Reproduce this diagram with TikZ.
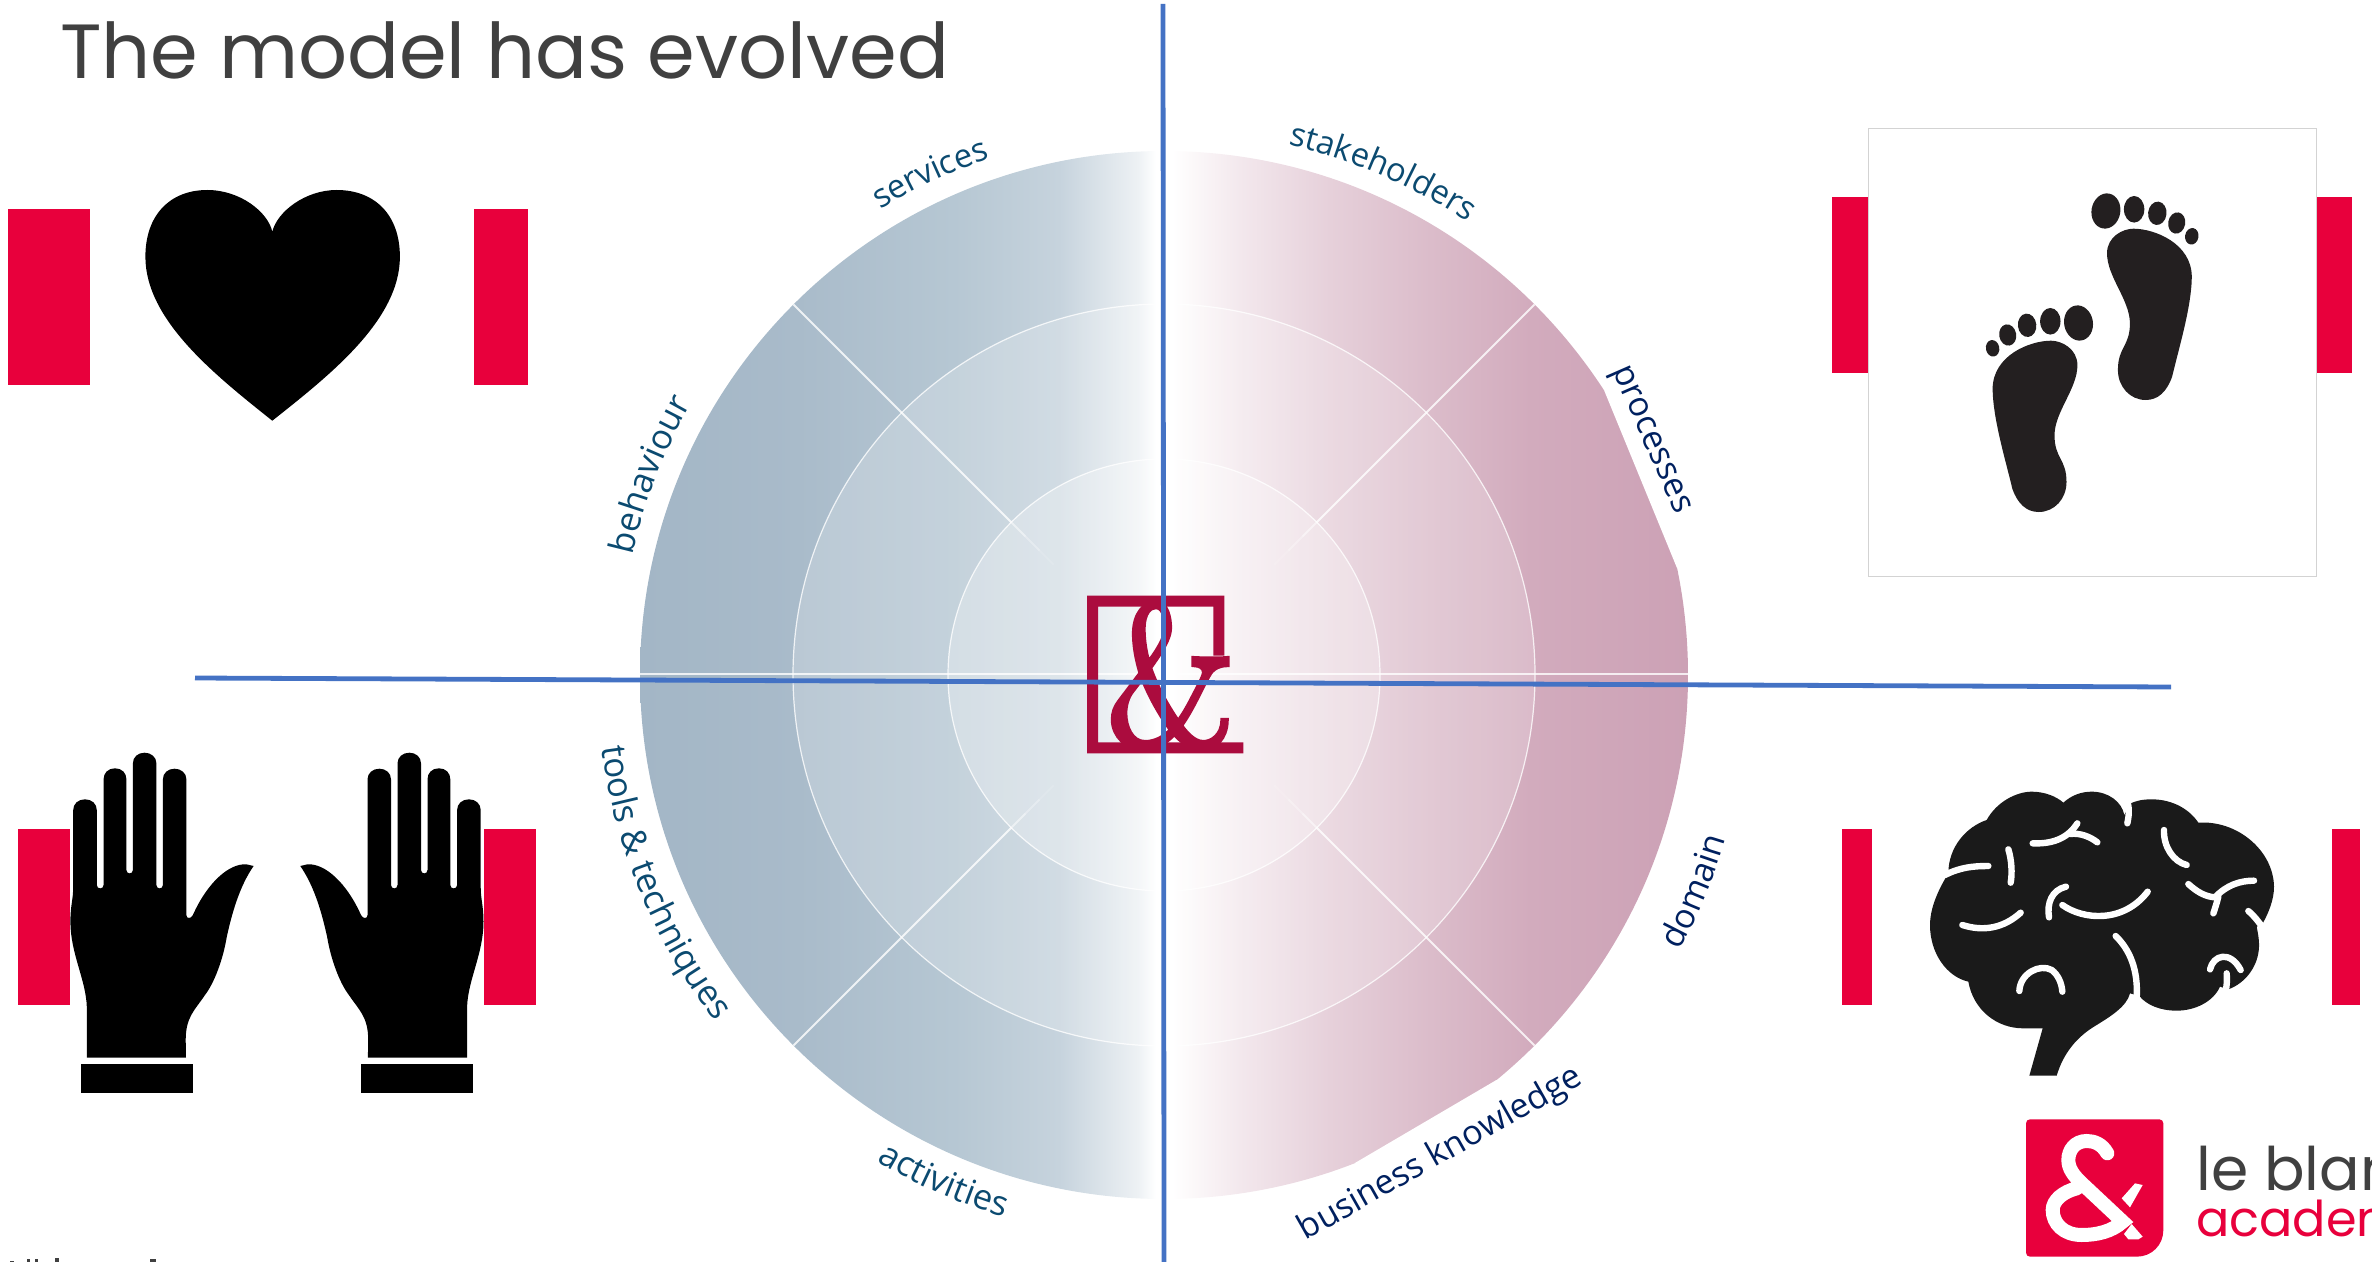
\documentclass[tikz,border=0pt]{standalone}
\usepackage{fontspec}
\usetikzlibrary{decorations.text}
\newfontfamily\titlefont{Poppins}
\newfontfamily\labelfont{Open Sans}
\newfontfamily\ampfont{Latin Modern Roman}[FakeBold=3]
\definecolor{barred}{HTML}{E8003C}
\definecolor{linkblue}{HTML}{4472C4}
\definecolor{inkgrey}{HTML}{404040}
\definecolor{labelteal}{HTML}{0B4A70}
\definecolor{labelnavy}{HTML}{00205F}
\definecolor{logowine}{HTML}{AB0C3E}
\definecolor{footink}{HTML}{231F20}
\definecolor{brainink}{HTML}{1A1A1A}
\definecolor{framegrey}{HTML}{D3D3D3}
\definecolor{wa}{HTML}{A3B6C6}
\definecolor{wb}{HTML}{A9BBCA}
\definecolor{wc}{HTML}{B6C7D3}
\definecolor{wd}{HTML}{C6D3DD}
\definecolor{we}{HTML}{EDF1F4}
\definecolor{wf}{HTML}{FCF9FA}
\definecolor{wg}{HTML}{F3E8ED}
\definecolor{wh}{HTML}{E6D0DA}
\definecolor{wi}{HTML}{DBBCCA}
\definecolor{wj}{HTML}{D2ABBD}
\definecolor{wk}{HTML}{CCA1B5}
\pgfdeclarehorizontalshading{wheelshade}{100bp}{color(0bp)=(wa); color(25bp)=(wa); color(32.5bp)=(wb); color(40bp)=(wc); color(45bp)=(wd); color(48.75bp)=(we); color(49.6bp)=(white); color(50.4bp)=(white); color(51.24bp)=(wf); color(53.6bp)=(wg); color(57.9bp)=(wh); color(62.7bp)=(wi); color(67.5bp)=(wj); color(75bp)=(wk); color(100bp)=(wk)}
\newcommand{\tealtext}{\labelfont\fontsize{26}{30}\selectfont\color{labelteal}}
\newcommand{\tealsmall}{\labelfont\fontsize{24.6}{30}\selectfont\color{labelteal}}
\newcommand{\navytext}{\labelfont\fontsize{25.5}{30}\selectfont\color{labelnavy}}
\tikzset{
  redbar/.style={fill=barred},
  bluerule/.style={draw=linkblue,line width=3.6pt},
  ringline/.style={draw=white,draw opacity=.8,line width=.9pt},
  spokeline/.style={draw=white,draw opacity=.8,line width=1.5pt},
  fold/.style={draw=white,line width=4.8pt,line cap=round},
  curvetext/.style={decorate,decoration={text along path,text align=center,text={#1}}}
}
\newcommand{\drawhand}{%
\fill (86.8,1057.7) -- (86.8,1006.7) .. controls (86,980) and (70.4,953.3) .. (70.4,921.7) .. controls (70.4,905) and (73.2,900) .. (73.2,886.7) -- (73.2,810) .. controls (73.2,804) and (78,799.3) .. (85,799.3) .. controls (92,799.3) and (96.8,804) .. (96.8,810) -- (96.8,885) .. controls (96.8,889.5) and (103.6,889.5) .. (103.6,885) -- (103.6,779.3) .. controls (103.6,773) and (108,768.3) .. (115,768.3) .. controls (122,768.3) and (126.4,773) .. (126.4,779.3) -- (126.4,870) .. controls (126.4,874.5) and (132.9,874.5) .. (132.9,870) -- (132.9,763.3) .. controls (132.9,757) and (138,752.7) .. (144.6,752.7) .. controls (151,752.7) and (156.4,757) .. (156.4,763.3) -- (156.4,885) .. controls (156.4,889.5) and (162.9,889.5) .. (162.9,885) -- (162.9,779.3) .. controls (162.9,773) and (168,768.7) .. (174.6,768.7) .. controls (181,768.7) and (186.4,773) .. (186.4,779.3) -- (186.4,915) .. controls (186.4,919) and (191,919) .. (192.9,915) .. controls (207,883.3) and (228.6,863.3) .. (246.4,864.3) -- (253.6,866) .. controls (239.3,886.7) and (232,913.3) .. (226.8,936.7) .. controls (223,960) and (214,983.3) .. (205,995) .. controls (195,1010) and (185.7,1016.7) .. (185.7,1040) -- (186,1057.7) -- cycle;
\fill (81,1064) rectangle (192.5,1092.7);}
\newcommand{\drawfoot}{%
\fill (2107,253.3) .. controls (2107,236.7) and (2122.8,228.7) .. (2133.4,228.7) .. controls (2154.5,228.7) and (2191.5,243.3) .. (2191.8,276.7) .. controls (2191.5,306.7) and (2179.2,346.7) .. (2172.1,376.7) .. controls (2166.8,391.7) and (2158,400) .. (2145.7,400) .. controls (2129.9,400) and (2117.9,386.7) .. (2117.9,370) .. controls (2117.9,346.7) and (2129.9,346.7) .. (2129.9,323.3) .. controls (2129.9,300) and (2107,276.7) .. (2107,253.3) -- cycle;
\fill [rotate around={10:(2105.9,211)}] (2105.9,211) ellipse [x radius=14.4,y radius=17.7];
\fill (2134.1,209.3) ellipse [x radius=10.2,y radius=13.3];
\fill [rotate around={6:(2157.3,213.3)}] (2157.3,213.3) ellipse [x radius=9.2,y radius=11.7];
\fill [rotate around={10:(2176.7,223)}] (2176.7,223) ellipse [x radius=8.5,y radius=10.7];
\fill [rotate around={10:(2191.8,236.3)}] (2191.8,236.3) ellipse [x radius=6.7,y radius=8.3];}
\begin{document}
\begin{tikzpicture}[x=0.75pt,y=0.75pt,yscale=-1,xscale=1]
\useasboundingbox (0,0) rectangle (2372,1262);
\clip (0,0) rectangle (2372,1262);

%Shape: Wheel
\begin{scope}[shift={(1164,675)},yscale=-1]
\begin{scope}
\clip (0,0) circle (524);
\shade [shading=wheelshade] (-524,-524) rectangle (524,524);
\end{scope}
\fill [white,opacity=.2] (0,0) circle (371);
\fill [white,opacity=.28] (0,0) circle (216);
\draw [ringline] (0,0) circle (371);
\draw [ringline] (0,0) circle (216);
\foreach \spokeangle in {45,135,225,315} {
  \draw [spokeline] (\spokeangle:216) -- (\spokeangle:524);
  \draw [spokeline,draw opacity=.5] (\spokeangle:196) -- (\spokeangle:216);
  \draw [spokeline,draw opacity=.3] (\spokeangle:176) -- (\spokeangle:196);
  \draw [spokeline,draw opacity=.12] (\spokeangle:156) -- (\spokeangle:176);
}
\draw [spokeline] (-524,1) -- (524,1);
%Shape: flat edges of the rim
\fill [white] (32.8:524) -- (11.8:524) -- (11.8:528) arc [start angle=11.8,end angle=32.8,radius=528] -- cycle;
\fill [white] (-68.6:524) -- (-50.6:524) -- (-50.6:528) arc [start angle=-50.6,end angle=-68.6,radius=528] -- cycle;
% Curved labels
\path [curvetext={|\tealsmall|services}] (140:545) arc [start angle=140,end angle=90,radius=545];
\path [curvetext={|\tealsmall|stakeholders}] (95.5:545) arc [start angle=95.5,end angle=37.5,radius=545];
\path [curvetext={|\tealtext|behaviour}] (184:545) arc [start angle=184,end angle=133.4,radius=545];
\path [curvetext={|\tealtext|tools {\&} techniques}] (165:567) arc [start angle=165,end angle=240,radius=567];
\path [curvetext={|\tealtext|activities}] (222:565) arc [start angle=222,end angle=271,radius=565];
\path [curvetext={|\navytext|domain}] (-47.2:585) arc [start angle=-47.2,end angle=2.8,radius=585];
\end{scope}
\path [curvetext={|\navytext|processes}] (1597,335) -- (1691,550);
\path [curvetext={|\navytext|business knowledge}] (1270,1261) -- (1620,1063);

%Shape: Centre mark
\fill [logowine] (1087,595.7) -- (1224.3,595.7) -- (1224.3,655.7) -- (1213.3,655.7) -- (1213.3,606.7) -- (1098,606.7) -- (1098,742.3) -- (1243.3,742.3) -- (1243.3,753.3) -- (1087,753.3) -- cycle;
\node (centreamp) [anchor=base,inner sep=0pt,text=logowine] at (1171,745) {\scalebox{.88}[1]{\ampfont\fontsize{150}{150}\selectfont\&}};

%Straight Lines
\coordinate (hleft) at (195,678);
\coordinate (hright) at (2171,687);
\coordinate (vtop) at (1163,4);
\coordinate (vbottom) at (1164,1262);
\draw [bluerule] (hleft) -- (hright);
\draw [bluerule] (vtop) -- (vbottom);

% Text Node
\node (slidetitle) [anchor=base west,inner sep=0pt,text=inkgrey] at (60,79) {\titlefont\fontsize{57.6}{60}\selectfont The model has evolved};

%Shape: Red bars
\fill [redbar] (8,209) rectangle (90,385);
\fill [redbar] (474,209) rectangle (528,385);
\fill [redbar] (18,829) rectangle (70,1005);
\fill [redbar] (484,829) rectangle (536,1005);
\fill [redbar] (1832,197) rectangle (1868,373);
\fill [redbar] (2316,197) rectangle (2352,373);
\fill [redbar] (1842,829) rectangle (1872,1005);
\fill [redbar] (2332,829) rectangle (2360,1005);

%Shape: Heart
\fill (272.3,420.7) .. controls (215,375) and (145.4,320) .. (145.4,256.7) .. controls (145.4,215) and (170,190) .. (207.3,190) .. controls (240,190) and (268,212) .. (272.3,231.7) .. controls (277,212) and (305,190) .. (336.7,190) .. controls (375,190) and (399.9,215) .. (399.9,256.7) .. controls (399.9,320) and (330,375) .. (272.3,420.7) -- cycle;

%Shape: Hands
\drawhand
\begin{scope}[shift={(553.9,0)},xscale=-1]
\drawhand
\end{scope}

%Shape: Feet
\draw [framegrey,line width=.75pt] (1868,129) rectangle (2316,576);
\begin{scope}[footink]
\drawfoot
\begin{scope}[shift={(4184.4,112)},xscale=-1]
\drawfoot
\end{scope}
\end{scope}

%Shape: Brain
\begin{scope}[shift={(1880,760)},scale=1/3]
\fill [brainink] (205,340) .. controls (205,260) and (260,200) .. (320,180) .. controls (350,125) and (410,95) .. (455,95) .. controls (495,95) and (530,110) .. (550,128) .. controls (575,105) and (605,95) .. (635,95) .. controls (685,95) and (725,125) .. (733,165) -- (752,130) .. controls (780,118) and (800,118) .. (815,118) .. controls (880,118) and (930,150) .. (955,188) .. controls (1070,180) and (1180,270) .. (1182,380) .. controls (1182,420) and (1165,460) .. (1148,490) -- (1130,500) .. controls (1138,540) and (1137,550) .. (1137,560) .. controls (1135,620) and (1095,670) .. (1045,688) -- (1020,680) .. controls (1000,725) and (945,752) .. (890,752) .. controls (840,752) and (800,735) .. (778,708) -- (750,700) .. controls (740,740) and (690,770) .. (650,795) .. controls (590,830) and (550,880) .. (530,947) -- (448,947) -- (488,805) .. controls (460,805) and (440,805) .. (430,805) .. controls (350,805) and (280,750) .. (265,665) .. controls (200,650) and (150,580) .. (150,495) .. controls (150,430) and (190,365) .. (205,340) -- cycle;
\draw [fold] (195,345) .. controls (240,322) and (280,318) .. (325,318);
\draw [fold] (385,268) .. controls (395,300) and (397,340) .. (392,368);
\draw [fold] (458,250) .. controls (510,252) and (560,240) .. (592,190);
\draw [fold] (570,222) .. controls (600,218) and (630,230) .. (652,247);
\draw [fold] (742,125) .. controls (750,150) and (745,175) .. (742,190);
\draw [fold] (852,210) .. controls (850,260) and (880,305) .. (920,315);
\draw [fold] (925,372) .. controls (950,395) and (975,410) .. (1005,412) .. controls (1040,375) and (1080,362) .. (1122,362);
\draw [fold] (1015,410) .. controls (1010,430) and (1005,445) .. (1000,460);
\draw [fold] (1105,453) .. controls (1125,470) and (1135,485) .. (1150,505);
\draw [fold] (247,495) .. controls (310,515) and (370,505) .. (422,458);
\draw [fold] (558,380) .. controls (515,390) and (500,430) .. (507,472);
\draw [fold] (547,435) .. controls (610,480) and (730,490) .. (803,395);
\draw [fold] (707,528) .. controls (750,570) and (775,630) .. (770,715);
\draw [fold] (418,693) .. controls (420,640) and (480,610) .. (515,630) .. controls (535,645) and (545,670) .. (547,695);
\draw [fold] (990,628) .. controls (1000,585) and (1050,570) .. (1082,630);
\draw [fold] (1040,640) .. controls (1042,660) and (1040,680) .. (1036,700);
\end{scope}

%Shape: Academy mark
\begin{scope}[shift={(1900,1080)},scale=1/3]
\fill [barred] (390,118) -- (778,118) .. controls (785,118) and (790,123) .. (790,130) -- (790,450) .. controls (790,495) and (755,530) .. (710,530) -- (390,530) .. controls (383,530) and (378,525) .. (378,518) -- (378,130) .. controls (378,123) and (383,118) .. (390,118) -- cycle;
\draw [white,line width=10.5pt,line cap=round] (622,220) .. controls (605,190) and (580,183) .. (560,183) .. controls (525,183) and (505,210) .. (505,240) .. controls (505,265) and (520,285) .. (540,305) -- (668,425) .. controls (635,455) and (590,465) .. (545,465) .. controls (490,465) and (458,430) .. (458,390) .. controls (458,360) and (490,335) .. (530,325);
\fill [white] (665,355) -- (705,310) -- (728,315) -- (690,382) -- cycle;
\fill [white] (695,432) -- (728,470) -- (715,478) -- (685,478) -- (672,462) -- cycle;
\end{scope}
\node (brandtop) [anchor=base west,inner sep=0pt,text=inkgrey] at (2196,1190) {\titlefont\fontsize{45}{45}\selectfont le blan};
\node (brandbottom) [anchor=base west,inner sep=0pt,text=barred] at (2196,1236) {\titlefont\fontsize{37}{37}\selectfont academ};

%Shape: Cut-off marks at the lower edge
\fill [inkgrey] (10,1261) rectangle (14,1262);
\fill [inkgrey] (27,1259) rectangle (30,1262);
\fill [inkgrey] (35,1259) rectangle (38,1262);
\fill [inkgrey] (55,1258) rectangle (59,1262);
\fill [inkgrey] (150,1259) rectangle (156,1262);

\end{tikzpicture}
\end{document}
